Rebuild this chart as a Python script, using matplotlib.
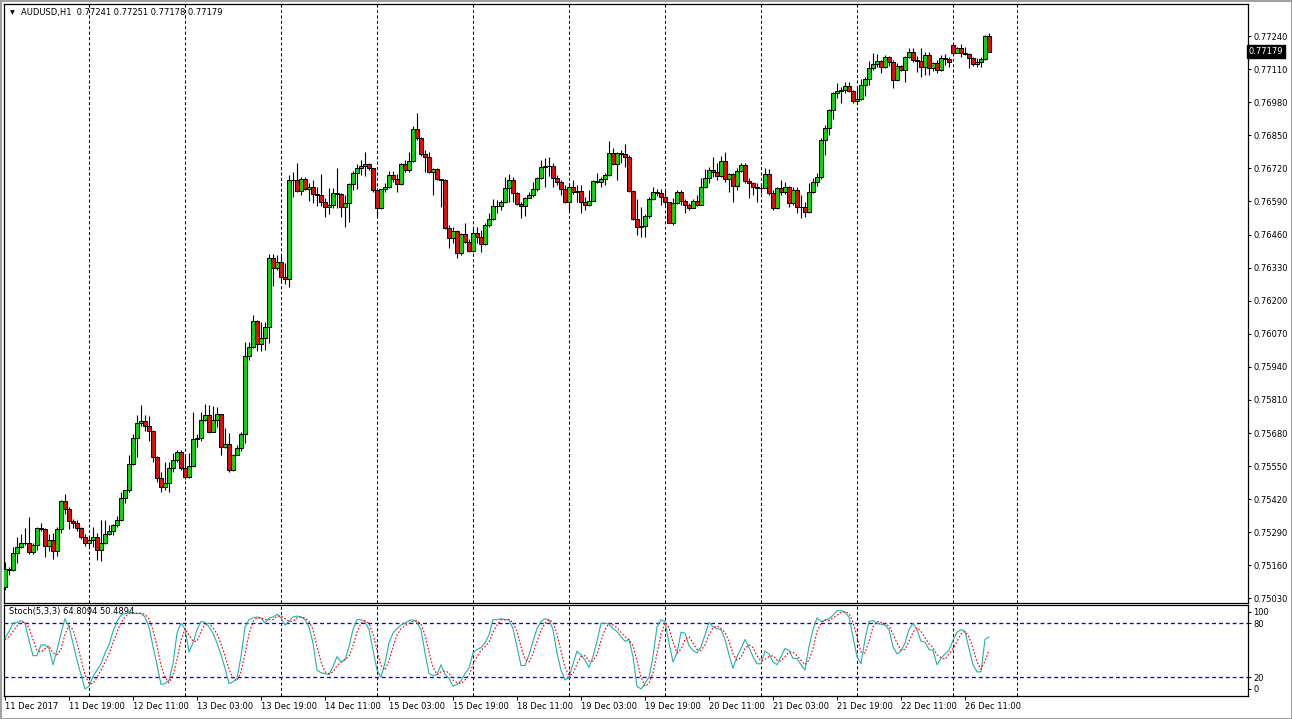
import numpy as np
import matplotlib
matplotlib.use('Agg')
import matplotlib.pyplot as plt

# AUDUSD H1, 11 Dec 2017 03:00 -> 26 Dec 2017 16:00 (247 bars)
closes = [
    0.75145, 0.75141, 0.75208, 0.75231, 0.75247, 0.75247, 0.75212, 0.75239, 0.75306, 0.75302, 0.75235, 0.75259,
    0.75216, 0.75302, 0.75412, 0.75381, 0.75333, 0.75326, 0.75306, 0.75271, 0.75247, 0.75259, 0.75271, 0.75219,
    0.75247, 0.75282, 0.75294, 0.75318, 0.75337, 0.75424, 0.75455, 0.75557, 0.75660, 0.75719, 0.75726, 0.75707,
    0.75687, 0.75585, 0.75502, 0.75467, 0.75483, 0.75542, 0.75573, 0.75605, 0.75542, 0.75506, 0.75550, 0.75656,
    0.75660, 0.75730, 0.75750, 0.75683, 0.75730, 0.75754, 0.75624, 0.75636, 0.75534, 0.75593, 0.75620, 0.75675,
    0.75982, 0.76017, 0.76119, 0.76029, 0.76053, 0.76096, 0.76367, 0.76328, 0.76351, 0.76292, 0.76285, 0.76674,
    0.76674, 0.76630, 0.76678, 0.76638, 0.76646, 0.76619, 0.76615, 0.76587, 0.76567, 0.76575, 0.76623, 0.76619,
    0.76567, 0.76583, 0.76658, 0.76701, 0.76721, 0.76729, 0.76736, 0.76721, 0.76634, 0.76564, 0.76638, 0.76646,
    0.76693, 0.76678, 0.76658, 0.76736, 0.76713, 0.76748, 0.76874, 0.76839, 0.76776, 0.76764, 0.76705, 0.76717,
    0.76678, 0.76674, 0.76485, 0.76446, 0.76473, 0.76387, 0.76461, 0.76430, 0.76395, 0.76465, 0.76450, 0.76422,
    0.76497, 0.76520, 0.76571, 0.76571, 0.76587, 0.76642, 0.76674, 0.76623, 0.76579, 0.76571, 0.76603, 0.76615,
    0.76638, 0.76681, 0.76725, 0.76729, 0.76729, 0.76681, 0.76666, 0.76638, 0.76587, 0.76646, 0.76626, 0.76630,
    0.76587, 0.76575, 0.76591, 0.76670, 0.76666, 0.76678, 0.76693, 0.76780, 0.76736, 0.76780, 0.76776, 0.76764,
    0.76630, 0.76520, 0.76489, 0.76493, 0.76532, 0.76599, 0.76626, 0.76623, 0.76607, 0.76587, 0.76505, 0.76583,
    0.76626, 0.76591, 0.76575, 0.76564, 0.76591, 0.76575, 0.76646, 0.76681, 0.76713, 0.76705, 0.76689, 0.76748,
    0.76678, 0.76697, 0.76650, 0.76709, 0.76733, 0.76670, 0.76662, 0.76646, 0.76642, 0.76642, 0.76697, 0.76623,
    0.76564, 0.76642, 0.76626, 0.76646, 0.76583, 0.76634, 0.76567, 0.76567, 0.76548, 0.76626, 0.76666, 0.76685,
    0.76831, 0.76878, 0.76949, 0.77016, 0.77023, 0.77027, 0.77043, 0.77023, 0.76984, 0.76992, 0.77047, 0.77071,
    0.77114, 0.77129, 0.77141, 0.77118, 0.77157, 0.77137, 0.77067, 0.77122, 0.77106, 0.77157, 0.77177, 0.77145,
    0.77141, 0.77118, 0.77165, 0.77114, 0.77133, 0.77106, 0.77153, 0.77149, 0.77137, 0.77173, 0.77192, 0.77173,
    0.77169, 0.77153, 0.77129, 0.77137, 0.77149, 0.77240, 0.77179]

highs = [
    0.75172, 0.75153, 0.75231, 0.75271, 0.75282, 0.75306, 0.75349, 0.75247, 0.75310, 0.75326, 0.75306, 0.75282,
    0.75286, 0.75310, 0.75416, 0.75440, 0.75388, 0.75341, 0.75337, 0.75310, 0.75282, 0.75275, 0.75310, 0.75286,
    0.75337, 0.75337, 0.75318, 0.75322, 0.75353, 0.75447, 0.75455, 0.75593, 0.75675, 0.75750, 0.75789, 0.75750,
    0.75746, 0.75691, 0.75589, 0.75526, 0.75565, 0.75565, 0.75601, 0.75612, 0.75612, 0.75597, 0.75601, 0.75762,
    0.75675, 0.75762, 0.75793, 0.75789, 0.75785, 0.75781, 0.75754, 0.75699, 0.75679, 0.75597, 0.75632, 0.75683,
    0.76037, 0.76037, 0.76143, 0.76123, 0.76116, 0.76116, 0.76383, 0.76383, 0.76379, 0.76375, 0.76347, 0.76693,
    0.76705, 0.76740, 0.76685, 0.76685, 0.76662, 0.76674, 0.76646, 0.76697, 0.76603, 0.76642, 0.76642, 0.76721,
    0.76623, 0.76615, 0.76662, 0.76709, 0.76736, 0.76752, 0.76784, 0.76740, 0.76721, 0.76642, 0.76638, 0.76662,
    0.76709, 0.76709, 0.76697, 0.76740, 0.76752, 0.76784, 0.76886, 0.76937, 0.76843, 0.76791, 0.76784, 0.76721,
    0.76721, 0.76678, 0.76678, 0.76497, 0.76489, 0.76477, 0.76465, 0.76505, 0.76442, 0.76485, 0.76489, 0.76477,
    0.76505, 0.76544, 0.76599, 0.76595, 0.76595, 0.76685, 0.76697, 0.76685, 0.76626, 0.76587, 0.76607, 0.76626,
    0.76666, 0.76685, 0.76752, 0.76760, 0.76764, 0.76740, 0.76693, 0.76674, 0.76654, 0.76662, 0.76674, 0.76654,
    0.76654, 0.76607, 0.76634, 0.76674, 0.76701, 0.76685, 0.76701, 0.76827, 0.76799, 0.76784, 0.76791, 0.76815,
    0.76772, 0.76634, 0.76599, 0.76567, 0.76540, 0.76607, 0.76646, 0.76638, 0.76638, 0.76634, 0.76587, 0.76603,
    0.76634, 0.76634, 0.76599, 0.76583, 0.76599, 0.76615, 0.76681, 0.76717, 0.76725, 0.76764, 0.76740, 0.76768,
    0.76784, 0.76701, 0.76701, 0.76721, 0.76740, 0.76740, 0.76681, 0.76666, 0.76662, 0.76662, 0.76721, 0.76717,
    0.76634, 0.76646, 0.76674, 0.76666, 0.76650, 0.76646, 0.76646, 0.76615, 0.76587, 0.76662, 0.76681, 0.76701,
    0.76839, 0.76890, 0.76953, 0.77019, 0.77055, 0.77039, 0.77059, 0.77059, 0.77027, 0.77035, 0.77071, 0.77078,
    0.77141, 0.77173, 0.77169, 0.77145, 0.77165, 0.77161, 0.77145, 0.77133, 0.77126, 0.77161, 0.77192, 0.77192,
    0.77161, 0.77192, 0.77177, 0.77177, 0.77137, 0.77145, 0.77165, 0.77169, 0.77157, 0.77208, 0.77196, 0.77208,
    0.77196, 0.77173, 0.77157, 0.77153, 0.77157, 0.77243, 0.77251]

lows = [
    0.75062, 0.75121, 0.75137, 0.75168, 0.75227, 0.75239, 0.75204, 0.75204, 0.75219, 0.75294, 0.75192, 0.75216,
    0.75184, 0.75196, 0.75286, 0.75361, 0.75302, 0.75306, 0.75294, 0.75263, 0.75235, 0.75235, 0.75231, 0.75180,
    0.75176, 0.75243, 0.75278, 0.75278, 0.75310, 0.75333, 0.75404, 0.75447, 0.75554, 0.75585, 0.75707, 0.75687,
    0.75648, 0.75565, 0.75487, 0.75447, 0.75455, 0.75447, 0.75526, 0.75565, 0.75534, 0.75499, 0.75502, 0.75546,
    0.75624, 0.75648, 0.75726, 0.75679, 0.75683, 0.75703, 0.75593, 0.75620, 0.75526, 0.75530, 0.75597, 0.75609,
    0.75640, 0.75966, 0.76013, 0.76002, 0.76002, 0.76005, 0.76033, 0.76257, 0.76320, 0.76277, 0.76265, 0.76253,
    0.76607, 0.76626, 0.76615, 0.76634, 0.76591, 0.76583, 0.76571, 0.76571, 0.76528, 0.76540, 0.76564, 0.76564,
    0.76528, 0.76489, 0.76509, 0.76634, 0.76638, 0.76693, 0.76689, 0.76713, 0.76626, 0.76528, 0.76560, 0.76626,
    0.76642, 0.76666, 0.76626, 0.76654, 0.76705, 0.76705, 0.76744, 0.76831, 0.76768, 0.76705, 0.76701, 0.76615,
    0.76674, 0.76567, 0.76481, 0.76406, 0.76426, 0.76367, 0.76379, 0.76426, 0.76391, 0.76391, 0.76426, 0.76391,
    0.76418, 0.76489, 0.76516, 0.76544, 0.76556, 0.76583, 0.76587, 0.76587, 0.76575, 0.76524, 0.76532, 0.76603,
    0.76607, 0.76630, 0.76678, 0.76646, 0.76689, 0.76646, 0.76654, 0.76615, 0.76583, 0.76552, 0.76619, 0.76587,
    0.76544, 0.76556, 0.76571, 0.76591, 0.76662, 0.76646, 0.76654, 0.76689, 0.76733, 0.76674, 0.76740, 0.76725,
    0.76626, 0.76516, 0.76457, 0.76450, 0.76450, 0.76524, 0.76595, 0.76611, 0.76575, 0.76575, 0.76505, 0.76497,
    0.76579, 0.76575, 0.76544, 0.76556, 0.76564, 0.76571, 0.76575, 0.76642, 0.76662, 0.76685, 0.76674, 0.76685,
    0.76666, 0.76626, 0.76587, 0.76634, 0.76705, 0.76662, 0.76603, 0.76615, 0.76587, 0.76623, 0.76646, 0.76615,
    0.76556, 0.76560, 0.76615, 0.76619, 0.76567, 0.76575, 0.76544, 0.76524, 0.76528, 0.76544, 0.76623, 0.76650,
    0.76678, 0.76772, 0.76850, 0.76913, 0.76996, 0.76976, 0.77016, 0.77019, 0.76976, 0.76988, 0.76988, 0.77004,
    0.77047, 0.77106, 0.77118, 0.77094, 0.77114, 0.77122, 0.77035, 0.77063, 0.77102, 0.77059, 0.77153, 0.77137,
    0.77098, 0.77078, 0.77086, 0.77086, 0.77102, 0.77094, 0.77102, 0.77126, 0.77118, 0.77165, 0.77173, 0.77157,
    0.77165, 0.77114, 0.77122, 0.77118, 0.77118, 0.77145, 0.77178]

first_open = 0.75074
open_gaps = {237: 0.77204, 246: 0.77241}   # bars whose open is not the previous close

# Stoch(5,3,3): %K main line and %D signal line
stoch_k = [
    63, 71, 80, 81, 83, 80, 61, 44, 44, 56, 56, 52, 34, 50, 69, 85, 76, 58, 39, 23, 7, 10, 21, 28,
    35, 47, 56, 71, 82, 89, 91, 92, 91, 91, 91, 87, 76, 54, 34, 12, 13, 17, 35, 69, 80, 74, 48, 58,
    73, 82, 81, 76, 69, 58, 45, 30, 13, 15, 19, 43, 76, 84, 86, 87, 86, 80, 86, 87, 90, 86, 78, 82,
    87, 88, 87, 84, 76, 58, 28, 25, 24, 23, 32, 43, 37, 39, 54, 73, 84, 84, 82, 73, 50, 28, 20, 36,
    58, 69, 74, 78, 80, 83, 84, 81, 73, 47, 24, 22, 23, 34, 23, 19, 10, 12, 16, 24, 30, 47, 51, 53,
    58, 67, 84, 84, 85, 84, 84, 74, 54, 33, 33, 45, 60, 74, 82, 85, 84, 73, 47, 28, 17, 20, 35, 49,
    45, 39, 31, 43, 60, 80, 80, 79, 74, 71, 65, 60, 62, 43, 10, 7, 13, 20, 43, 76, 84, 82, 58, 37,
    47, 70, 69, 55, 50, 47, 54, 67, 81, 76, 74, 73, 62, 45, 30, 43, 52, 62, 53, 43, 35, 35, 49, 46,
    37, 34, 43, 52, 50, 41, 41, 34, 28, 54, 73, 86, 82, 83, 85, 89, 94, 94, 92, 87, 65, 43, 35, 62,
    82, 83, 80, 79, 78, 73, 54, 46, 49, 58, 73, 80, 73, 60, 59, 51, 50, 34, 41, 46, 50, 61, 70, 73,
    71, 52, 34, 26, 26, 62, 64.8094]

stoch_d = [
    62, 65, 71, 77, 81, 81, 75, 62, 50, 48, 52, 55, 47, 45, 51, 68, 77, 73, 58, 40, 23, 13, 13, 20,
    28, 37, 46, 58, 70, 81, 87, 91, 91, 91, 91, 90, 85, 72, 55, 33, 20, 14, 22, 40, 61, 74, 67, 60,
    60, 71, 79, 80, 75, 68, 57, 44, 29, 19, 16, 26, 46, 68, 82, 86, 86, 84, 84, 84, 88, 88, 85, 82,
    82, 86, 87, 86, 82, 73, 54, 37, 26, 24, 26, 33, 37, 40, 43, 55, 70, 80, 83, 80, 68, 50, 33, 28,
    38, 54, 67, 74, 77, 80, 82, 83, 79, 67, 48, 31, 23, 26, 27, 25, 17, 14, 13, 17, 23, 34, 43, 50,
    54, 59, 70, 78, 84, 84, 84, 81, 71, 54, 40, 37, 46, 60, 72, 80, 84, 81, 68, 49, 31, 22, 24, 35,
    43, 44, 38, 38, 45, 61, 73, 80, 78, 75, 70, 65, 62, 55, 38, 20, 10, 13, 25, 46, 68, 81, 75, 59,
    47, 51, 62, 65, 58, 51, 50, 56, 67, 75, 77, 74, 70, 60, 46, 39, 42, 52, 56, 53, 44, 38, 40, 43,
    44, 39, 38, 43, 48, 48, 44, 39, 34, 39, 52, 71, 80, 84, 83, 86, 89, 92, 93, 91, 81, 65, 48, 47,
    60, 76, 82, 81, 79, 77, 68, 58, 50, 51, 60, 70, 75, 71, 64, 57, 53, 45, 42, 40, 46, 52, 60, 68,
    71, 65, 52, 37, 29, 38, 50.4894]

price_ticks = [0.75030, 0.75160, 0.75290, 0.75420, 0.75550, 0.75680, 0.75810, 0.75940, 0.76070,
               0.76200, 0.76330, 0.76460, 0.76590, 0.76720, 0.76850, 0.76980, 0.77110, 0.77240]

time_ticks = [0, 16, 32, 48, 64, 80, 96, 112, 128, 144, 160, 176, 192, 208, 224, 240]
time_labels = ['11 Dec 2017', '11 Dec 19:00', '12 Dec 11:00', '13 Dec 03:00', '13 Dec 19:00',
               '14 Dec 11:00', '15 Dec 03:00', '15 Dec 19:00', '18 Dec 11:00', '19 Dec 03:00',
               '19 Dec 19:00', '20 Dec 11:00', '21 Dec 03:00', '21 Dec 19:00', '22 Dec 11:00',
               '26 Dec 11:00']
day_starts = [21, 45, 69, 93, 117, 141, 165, 189, 213, 237, 253]

closes = np.array(closes)
highs = np.array(highs)
lows = np.array(lows)
opens = np.r_[first_open, closes[:-1]]
for k, v in open_gaps.items():
    opens[k] = v
highs = np.maximum(highs, np.maximum(opens, closes))
lows = np.minimum(lows, np.minimum(opens, closes))
idx = np.arange(len(closes))

W, H = 1292, 719
FONT = 'DejaVu Sans'
FS = 6.0

def px_rect(x0, y0, x1, y1):
    return [x0 / W, 1 - y1 / H, (x1 - x0) / W, (y1 - y0) / H]

fig = plt.figure(figsize=(W / 100, H / 100), dpi=100, facecolor='white')
ax = fig.add_axes(px_rect(4, 4, 1248, 603))
ax2 = fig.add_axes(px_rect(4, 605, 1248, 696))

for a in (ax, ax2):
    a.set_xlim(-0.25, 310.75)
    for s in a.spines.values():
        s.set_linewidth(0.9)
        s.set_color('black')
    for d in day_starts:
        a.axvline(d, color='black', lw=0.75, ls=(0, (3.0, 2.2)), zorder=1)

# candles
up = closes >= opens
body_col = np.where(up, '#10d010', '#d81010')
ax.vlines(idx, lows, highs, color='black', lw=0.8, zorder=2)
ax.bar(idx, np.abs(closes - opens), bottom=np.minimum(opens, closes), width=0.8,
       color=body_col, edgecolor='black', linewidth=0.7, zorder=3)

ax.set_ylim(0.75012, 0.77366)
ax.set_xticks([])
ax.yaxis.tick_right()
ax.set_yticks(price_ticks)
ax.set_yticklabels(['%.5f' % p for p in price_ticks])
ax.tick_params(axis='y', direction='out', length=2.4, width=0.7, pad=1.5, labelsize=FS)
for t in ax.get_yticklabels():
    t.set_fontfamily(FONT)

# current price marker
ax.text(1.0007, closes[-1], '%.5f' % closes[-1], transform=ax.get_yaxis_transform(),
        ha='left', va='center', color='white', fontsize=FS, family=FONT,
        bbox=dict(boxstyle='square,pad=0.2', fc='black', ec='black'), zorder=10, clip_on=False)

# header
fig.text(12 / W, 1 - 13 / H, '\u25bc', fontsize=4.5, family=FONT, ha='center', va='center')
fig.text(21 / W, 1 - 13 / H, 'AUDUSD,H1  %.5f %.5f %.5f %.5f' % (opens[-1], highs[-1], lows[-1], closes[-1]),
         fontsize=FS, family=FONT, ha='left', va='center')

# stochastic pane
ax2.set_ylim(-0.8, 100.3)
ax2.plot(idx, stoch_k, color='#20b2aa', lw=0.8, zorder=4)
ax2.plot(idx, stoch_d, color='#ff0000', lw=0.85, ls=(0, (1.4, 1.6)), zorder=4)
for lvl in (20, 80):
    ax2.axhline(lvl, color='#0000ff', lw=0.95, ls=(0, (3.0, 2.2)), zorder=2)
ax2.yaxis.tick_right()
ax2.set_yticks([92.6, 80, 20, 7])
ax2.set_yticklabels(['100', '80', '20', '0'])
ax2.tick_params(axis='y', direction='out', length=2.4, width=0.7, pad=1.5, labelsize=FS)
ax2.set_xticks(time_ticks)
ax2.set_xticklabels(time_labels)
ax2.tick_params(axis='x', direction='out', length=2.6, width=0.7, pad=2.0, labelsize=FS)
for t in ax2.get_xticklabels():
    t.set_ha('left')
    t.set_fontfamily(FONT)
for t in ax2.get_yticklabels():
    t.set_fontfamily(FONT)
ax2.text(5 / 1244, 0.925, 'Stoch(5,3,3) %.4f %.4f' % (stoch_k[-1], stoch_d[-1]),
         transform=ax2.transAxes, fontsize=FS, family=FONT, ha='left', va='center')

# window frame
fig.patches.append(plt.Rectangle((0, 0), 1, 1, transform=fig.transFigure, fill=False,
                                 ec='#a0a0a0', lw=2.2))

fig.savefig('out.png', dpi=100, facecolor='white')
